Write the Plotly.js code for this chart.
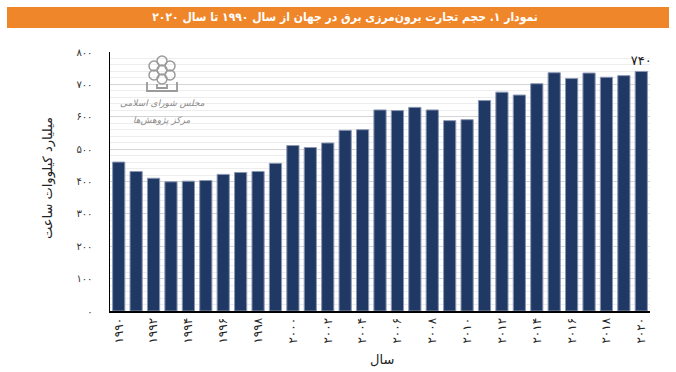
<!DOCTYPE html>
<html>
<head>
<meta charset="utf-8">
<script src="https://cdn.plot.ly/plotly-3.0.1.min.js"></script>
<style>html,body{margin:0;padding:0;background:#fff;}#chart{width:676px;height:372px;}</style>
</head>
<body>
<div id="chart"></div>
<script>
const years = [1990,1991,1992,1993,1994,1995,1996,1997,1998,1999,2000,2001,2002,2003,2004,2005,2006,2007,2008,2009,2010,2011,2012,2013,2014,2015,2016,2017,2018,2019,2020];
const trade = [460,431,410,399,401,403,422,428,431,456,511,505,519,558,560,621,619,629,621,588,591,650,676,667,702,736,718,735,722,727,740];
const xTickYears = [1990,1992,1994,1996,1998,2000,2002,2004,2006,2008,2010,2012,2014,2016,2018,2020];
const yTickVals = [0,100,200,300,400,500,600,700,800];
const titleText = 'نمودار ۱. حجم تجارت برون‌مرزی برق در جهان از سال ۱۹۹۰ تا سال ۲۰۲۰';
const yTitle = 'میلیارد کیلووات ساعت';
const xTitle = 'سال';

const fa = s => String(s).replace(/\d/g, d => '۰۱۲۳۴۵۶۷۸۹'[d]);
const labels = trade.map((v, i) => i === trade.length - 1 ? fa(v) : '');

// plot area in px: x 110..650, y 52..311
const L = 110, R = 650, T = 52, B = 311;
const px = x => (x - L) / (R - L);
const py = y => (B - y) / (B - T);

const shapes = [{
  type: 'rect', xref: 'paper', yref: 'paper',
  x0: px(7), x1: px(669), y0: py(28), y1: py(7),
  fillcolor: '#F0862A', line: {width: 0}, layer: 'below'
}];
// simple watermark logo: ring of circles and a book-like base
const logoC = [[162,61],[154,66],[170,66],[154,75],[170,75],[162,70],[162,79]];
logoC.forEach(([cx, cy]) => shapes.push({
  type: 'circle', xref: 'paper', yref: 'paper',
  x0: px(cx - 5), x1: px(cx + 5), y0: py(cy + 5), y1: py(cy - 5),
  line: {color: '#9a9a9a', width: 1.5}, fillcolor: 'rgba(0,0,0,0)', layer: 'above'
}));
shapes.push({
  type: 'path', xref: 'paper', yref: 'paper',
  path: `M ${px(147)} ${py(82)} L ${px(147)} ${py(91)} L ${px(177)} ${py(91)} L ${px(177)} ${py(82)} M ${px(157)} ${py(84)} L ${px(157)} ${py(88)} L ${px(167)} ${py(88)} L ${px(167)} ${py(84)}`,
  line: {color: '#9a9a9a', width: 1.8}, layer: 'above'
});

const trace = {
  type: 'bar', x: years, y: trade,
  marker: {color: '#1F3864', line: {color: '#8B97B3', width: 1}},
  text: labels, textposition: 'outside', cliponaxis: false, constraintext: 'none',
  textfont: {family: 'DejaVu Sans', size: 13, color: '#222'},
  hoverinfo: 'x+y'
};

const layout = {
  width: 676, height: 372,
  margin: {l: L, r: 676 - R, t: T, b: 372 - B},
  paper_bgcolor: '#fff', plot_bgcolor: '#fff',
  bargap: 0.3, showlegend: false,
  font: {family: 'DejaVu Sans', color: '#222'},
  title: {
    text: titleText, xref: 'container', yref: 'container',
    x: 345 / 676, y: 1 - 17 / 372, xanchor: 'center', yanchor: 'middle',
    font: {family: 'DejaVu Sans Condensed', size: 12, color: '#fff', weight: 'bold'}
  },
  xaxis: {
    range: [1989.5, 2020.5],
    tickvals: xTickYears, ticktext: xTickYears.map(fa),
    tickangle: -90, ticks: '', showgrid: false,
    showline: true, linecolor: '#000', linewidth: 2,
    tickfont: {family: 'DejaVu Sans', size: 12, color: '#222'},
    zeroline: false
  },
  yaxis: {
    range: [0, 800],
    tickvals: yTickVals, ticktext: yTickVals.map(fa),
    ticks: '', ticklen: 0,
    tickfont: {family: 'DejaVu Sans', size: 10, color: '#333'},
    showgrid: true, gridcolor: '#d4d4d4', gridwidth: 1,
    minor: {dtick: 20, showgrid: true, gridcolor: '#ededed', gridwidth: 1},
    showline: true, linecolor: '#000', linewidth: 1.5,
    zeroline: false, ticklabelstandoff: 14
  },
  shapes: shapes,
  annotations: [
    {xref: 'paper', yref: 'paper', x: px(48), y: py(178), xanchor: 'center', yanchor: 'middle',
     text: yTitle, showarrow: false, textangle: -90,
     font: {family: 'DejaVu Sans', size: 13, color: '#222'}},
    {xref: 'paper', yref: 'paper', x: px(382), y: py(369), xanchor: 'center', yanchor: 'bottom',
     text: xTitle, showarrow: false,
     font: {family: 'DejaVu Sans', size: 13, color: '#222'}},
    {xref: 'paper', yref: 'paper', x: px(162), y: py(103), xanchor: 'center', yanchor: 'middle',
     text: 'مجلس شورای اسلامی', showarrow: false,
     font: {family: 'DejaVu Sans', size: 9, color: '#8a8a8a', style: 'italic'}},
    {xref: 'paper', yref: 'paper', x: px(162), y: py(120), xanchor: 'center', yanchor: 'middle',
     text: 'مرکز پژوهش‌ها', showarrow: false,
     font: {family: 'DejaVu Sans', size: 9, color: '#8a8a8a', style: 'italic'}}
  ]
};

Plotly.newPlot('chart', [trace], layout, {displayModeBar: false, staticPlot: true});
</script>
</body>
</html>
